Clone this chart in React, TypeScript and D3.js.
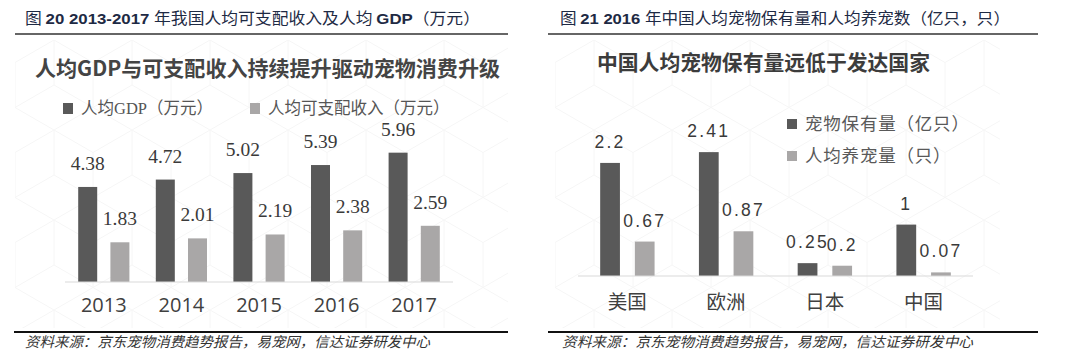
import React from 'react';
import * as d3 from 'd3';

// left chart data
const years = ['2013', '2014', '2015', '2016', '2017'];
const gdpPerCapita = [4.38, 4.72, 5.02, 5.39, 5.96];
const disposableIncome = [1.83, 2.01, 2.19, 2.38, 2.59];
const leftSeries = ['人均GDP（万元）', '人均可支配收入（万元）'];

// right chart data
const regions = ['美国', '欧洲', '日本', '中国'];
const petOwnership = [2.2, 2.41, 0.25, 1];
const petsPerCapita = [0.67, 0.87, 0.2, 0.07];
const rightSeries = ['宠物保有量（亿只）', '人均养宠量（只）'];

const DARK = '#595959';
const LIGHT = '#a9a7a7';
const CAPTION = '#1e2a44';
const CJK = '"Noto Sans CJK SC", sans-serif';
const SERIF = '"Liberation Serif", "Noto Sans CJK SC", serif';

const HexBg: React.FC<{ id: string; x: number; y: number; w: number; h: number }> = ({ id, x, y, w, h }) => (
  <g>
    <defs>
      <pattern id={id} width={78} height={90} patternUnits="userSpaceOnUse" x={x} y={y}>
        <path
          d="M0,22.5 L39,0 L78,22.5 M39,0 L39,45 M0,22.5 L0,67.5 L39,90 L78,67.5 L78,22.5 M39,45 L0,67.5 M39,45 L78,67.5"
          fill="none"
          stroke="#f6f6f6"
          strokeWidth={1}
        />
      </pattern>
    </defs>
    <rect x={x} y={y} width={w} height={h} fill={`url(#${id})`} />
  </g>
);

const LeftChart: React.FC = () => {
  const x0 = d3.scaleBand<string>().domain(years).range([65, 453]);
  const x1 = d3.scaleBand<number>().domain([0, 1]).range([0, x0.bandwidth()]).paddingInner(0.41).paddingOuter(0.41);
  const y = d3.scaleLinear().domain([0, 6]).range([282, 282 - 130.2]);
  const bw = x1.bandwidth();

  return (
    <g>
      <HexBg id="hexL" x={15} y={40} w={493} h={288} />
      <text x={25} y={24} fontSize={15.5} fill={CAPTION} fontFamily={CJK} textLength={455} lengthAdjust="spacingAndGlyphs">
        <tspan>图  </tspan>
        <tspan fontFamily="Liberation Sans" fontWeight="bold">20 2013-2017 </tspan>
        <tspan>年我国人均可支配收入及人均 </tspan>
        <tspan fontFamily="Liberation Sans" fontWeight="bold">GDP</tspan>
        <tspan>（万元）</tspan>
      </text>
      <line x1={15} x2={508} y1={34} y2={34} stroke="#333" strokeWidth={1.5} />
      <text x={35} y={76} fontSize={21} fontWeight="bold" fill="#444" fontFamily={CJK} textLength={465} lengthAdjust="spacingAndGlyphs">
        人均GDP与可支配收入持续提升驱动宠物消费升级
      </text>

      {/* legend */}
      {leftSeries.map((s, i) => {
        const lx = i === 0 ? 63 : 250;
        return (
          <g key={s}>
            <rect x={lx} y={103} width={10} height={11} fill={i === 0 ? DARK : LIGHT} />
            <text x={lx + 18} y={114} fontSize={16.5} fill="#555" fontFamily={SERIF}>
              {s}
            </text>
          </g>
        );
      })}

      {years.map((yr, i) => {
        const gx = x0(yr)!;
        const vals = [gdpPerCapita[i], disposableIncome[i]];
        return (
          <g key={yr}>
            {vals.map((v, j) => (
              <g key={j}>
                <rect x={gx + x1(j)!} y={y(v)} width={bw} height={y(0) - y(v)} fill={j === 0 ? DARK : LIGHT} />
                <text
                  x={gx + x1(j)! + bw / 2}
                  y={y(v) - 17}
                  textAnchor="middle"
                  fontSize={19.5}
                  fill="#3a3a3a"
                  fontFamily="Liberation Serif"
                >
                  {v.toFixed(2)}
                </text>
              </g>
            ))}
            <text
              x={gx + x0.bandwidth() / 2}
              y={312}
              textAnchor="middle"
              fontSize={20}
              fill="#404040"
              fontFamily='"Open Sans", "Liberation Sans", sans-serif'
            >
              {yr}
            </text>
          </g>
        );
      })}
      <line x1={65} x2={453} y1={y(0)} y2={y(0)} stroke="#d9d9d9" strokeWidth={1.2} />

      <line x1={14} x2={508} y1={332} y2={332} stroke="#111" strokeWidth={2} />
      <text x={25} y={347} fontSize={14.2} fontStyle="italic" fill="#333" fontFamily={CJK} textLength={405} lengthAdjust="spacingAndGlyphs">
        资料来源：京东宠物消费趋势报告，易宠网，信达证券研发中心
      </text>
    </g>
  );
};

const RightChart: React.FC = () => {
  const x0 = d3.scaleBand<string>().domain(regions).range([578, 973]);
  const x1 = d3.scaleBand<number>().domain([0, 1]).range([0, x0.bandwidth()]).paddingInner(0.43).paddingOuter(0.64);
  const y = d3.scaleLinear().domain([0, 2.5]).range([276, 276 - 128.5]);
  const bw = x1.bandwidth();

  return (
    <g>
      <HexBg id="hexR" x={555} y={40} w={445} h={288} />
      <text x={560} y={24} fontSize={15.5} fill={CAPTION} fontFamily={CJK} textLength={450} lengthAdjust="spacingAndGlyphs">
        <tspan>图  </tspan>
        <tspan fontFamily="Liberation Sans" fontWeight="bold">21 2016 </tspan>
        <tspan>年中国人均宠物保有量和人均养宠数（亿只，只）</tspan>
      </text>
      <line x1={548} x2={1038} y1={34} y2={34} stroke="#333" strokeWidth={1.5} />
      <text x={597} y={70} fontSize={21} fontWeight="bold" fill="#3c3c3c" fontFamily={CJK} textLength={333} lengthAdjust="spacingAndGlyphs">
        中国人均宠物保有量远低于发达国家
      </text>

      {/* legend */}
      {rightSeries.map((s, i) => (
        <g key={s}>
          <rect x={787} y={119 + i * 32} width={10} height={10} fill={i === 0 ? DARK : LIGHT} />
          <text x={805} y={130 + i * 32} fontSize={17.5} fill="#595959" fontFamily={CJK} letterSpacing={0.8}>
            {s}
          </text>
        </g>
      ))}

      {regions.map((r, i) => {
        const gx = x0(r)!;
        const vals = [petOwnership[i], petsPerCapita[i]];
        return (
          <g key={r}>
            {vals.map((v, j) => (
              <g key={j}>
                <rect x={gx + x1(j)!} y={y(v)} width={bw} height={y(0) - y(v)} fill={j === 0 ? DARK : LIGHT} />
                <text
                  x={gx + x1(j)! + bw / 2}
                  y={y(v) - 15}
                  textAnchor="middle"
                  fontSize={17.5}
                  fill="#3a3a3a"
                  fontFamily="Liberation Sans"
                  letterSpacing={2.2}
                >
                  {String(v)}
                </text>
              </g>
            ))}
            <text x={gx + x0.bandwidth() / 2} y={309} textAnchor="middle" fontSize={19.5} fill="#404040" fontFamily={CJK}>
              {r}
            </text>
          </g>
        );
      })}
      <line x1={578} x2={973} y1={y(0)} y2={y(0)} stroke="#d9d9d9" strokeWidth={1.2} />

      <line x1={548} x2={1038} y1={332} y2={332} stroke="#111" strokeWidth={2} />
      <text x={562} y={347} fontSize={14.2} fontStyle="italic" fill="#333" fontFamily={CJK} textLength={411} lengthAdjust="spacingAndGlyphs">
        资料来源：京东宠物消费趋势报告，易宠网，信达证券研发中心
      </text>
    </g>
  );
};

export default function App() {
  return (
    <div style={{ position: 'absolute', left: 0, top: 0 }}>
      <svg width={1080} height={363} style={{ display: 'block', background: '#fff' }}>
        <LeftChart />
        <RightChart />
      </svg>
    </div>
  );
}
